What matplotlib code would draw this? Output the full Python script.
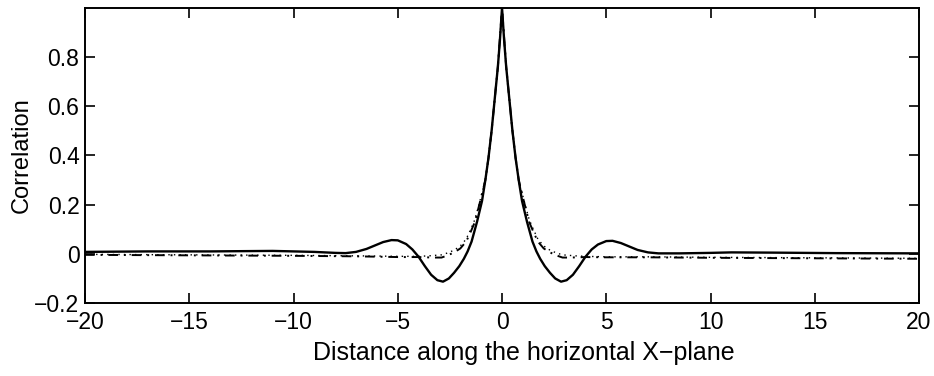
import matplotlib.pyplot as plt

plt.rcParams['font.family'] = ['Liberation Sans', 'DejaVu Sans']

# solid curve
x_solid = [-20, -17, -14, -11, -9, -8, -7.5, -7.0, -6.5, -6.1, -5.7, -5.3, -5.0, -4.6, -4.3,
           -4.0, -3.7, -3.4, -3.1, -2.83, -2.55, -2.3, -2.05, -1.83, -1.65, -1.46, -1.2,
           -0.96, -0.8, -0.65, -0.5, -0.35, -0.2, -0.1, 0,
           0.1, 0.2, 0.35, 0.5, 0.65, 0.8, 0.96, 1.2, 1.46, 1.65, 1.83, 2.05, 2.3, 2.55,
           2.83, 3.1, 3.4, 3.7, 4.0, 4.3, 4.6, 5.0, 5.3, 5.7, 6.1, 6.5, 7.0, 7.5, 8.5, 10,
           11, 13, 16, 20]
y_solid = [0.008, 0.01, 0.01, 0.012, 0.008, 0.004, 0.003, 0.008, 0.02, 0.034, 0.048,
           0.056, 0.055, 0.04, 0.018, -0.012, -0.05, -0.085, -0.107, -0.113, -0.1, -0.077,
           -0.05, -0.02, 0.01, 0.05, 0.13, 0.215, 0.3, 0.39, 0.5, 0.63, 0.76, 0.87, 1.0,
           0.87, 0.76, 0.63, 0.5, 0.39, 0.3, 0.215, 0.13, 0.05, 0.01, -0.02, -0.05,
           -0.077, -0.1, -0.113, -0.107, -0.085, -0.05, -0.012, 0.018, 0.038, 0.052,
           0.053, 0.044, 0.03, 0.016, 0.006, 0.002, 0.002, 0.004, 0.006, 0.005, 0.003,
           0.002]

# dash-dot curve
x_dashdot = [-20, -15, -10, -7, -5, -4, -3.3, -2.9, -2.6, -2.3, -2.0, -1.72, -1.5, -1.3,
             -1.06, -0.8, -0.65, -0.5, -0.35, -0.2, 0,
             0.2, 0.35, 0.5, 0.65, 0.8, 1.06, 1.3, 1.5, 1.72, 2.0, 2.3, 2.6, 2.9, 3.3, 4,
             5, 7, 10, 15, 20]
y_dashdot = [-0.004, -0.006, -0.008, -0.01, -0.013, -0.013, -0.015, -0.015, -0.006, 0.006,
             0.022, 0.05, 0.09, 0.13, 0.21, 0.3, 0.39, 0.5, 0.63, 0.76, 1.0,
             0.76, 0.63, 0.5, 0.39, 0.3, 0.21, 0.13, 0.09, 0.05, 0.022, 0.006, -0.006,
             -0.015, -0.015, -0.013, -0.014, -0.014, -0.016, -0.018, -0.02]

# dotted curve
x_dotted = [-20, -15, -10, -7, -5, -4, -3.5, -2.9, -2.6, -2.3, -2.0, -1.72, -1.5, -1.3,
            -1.06, -0.8, -0.65, -0.5, -0.35, -0.2, 0,
            0.2, 0.35, 0.5, 0.65, 0.8, 1.06, 1.3, 1.5, 1.72, 2.0, 2.3, 2.6, 2.9, 3.5, 4,
            5, 7, 10, 15, 20]
y_dotted = [-0.002, -0.004, -0.006, -0.008, -0.01, -0.01, -0.008, -0.004, 0.004, 0.015,
            0.032, 0.06, 0.1, 0.14, 0.215, 0.3, 0.39, 0.5, 0.63, 0.76, 1.0,
            0.76, 0.63, 0.5, 0.39, 0.3, 0.215, 0.14, 0.1, 0.06, 0.032, 0.015, 0.004,
            -0.004, -0.008, -0.01, -0.012, -0.012, -0.014, -0.016, -0.018]

fig = plt.figure(figsize=(9.34, 3.76), dpi=100)
ax = fig.add_axes([0.091, 0.194, 0.893, 0.785])

ax.plot(x_solid, y_solid, color='black', lw=1.7, ls='-')
ax.plot(x_dashdot, y_dashdot, color='black', lw=1.4, ls=(0, (5, 3, 1, 3)))
ax.plot(x_dotted, y_dotted, color='black', lw=1.0, ls=(0, (1, 3)))

ax.set_xlim(-20, 20)
ax.set_ylim(-0.2, 1.0)
ax.set_xticks([-20, -15, -10, -5, 0, 5, 10, 15, 20])
ax.set_yticks([-0.2, 0, 0.2, 0.4, 0.6, 0.8])
ax.set_yticklabels(['\u22120.2', '0', '0.2', '0.4', '0.6', '0.8'])
ax.set_xticklabels(['\u221220', '\u221215', '\u221210', '\u22125', '0', '5', '10', '15', '20'])
ax.tick_params(direction='in', length=7, width=1.2, top=True, right=True,
               labelsize=16.5)
ax.tick_params(axis='x', pad=6)
ax.tick_params(axis='y', pad=4)
for s in ax.spines.values():
    s.set_linewidth(1.4)

ax.set_xlabel('Distance along the horizontal X\u2212plane', fontsize=18)
ax.xaxis.set_label_coords(0.526, -0.168, transform=ax.transAxes)
ax.xaxis.label.set_va('center')
ax.set_ylabel('Correlation', fontsize=17)
ax.yaxis.set_label_coords(-0.0755, 0.5, transform=ax.transAxes)
ax.yaxis.label.set_va('center')

fig.savefig('out.png', dpi=100)
